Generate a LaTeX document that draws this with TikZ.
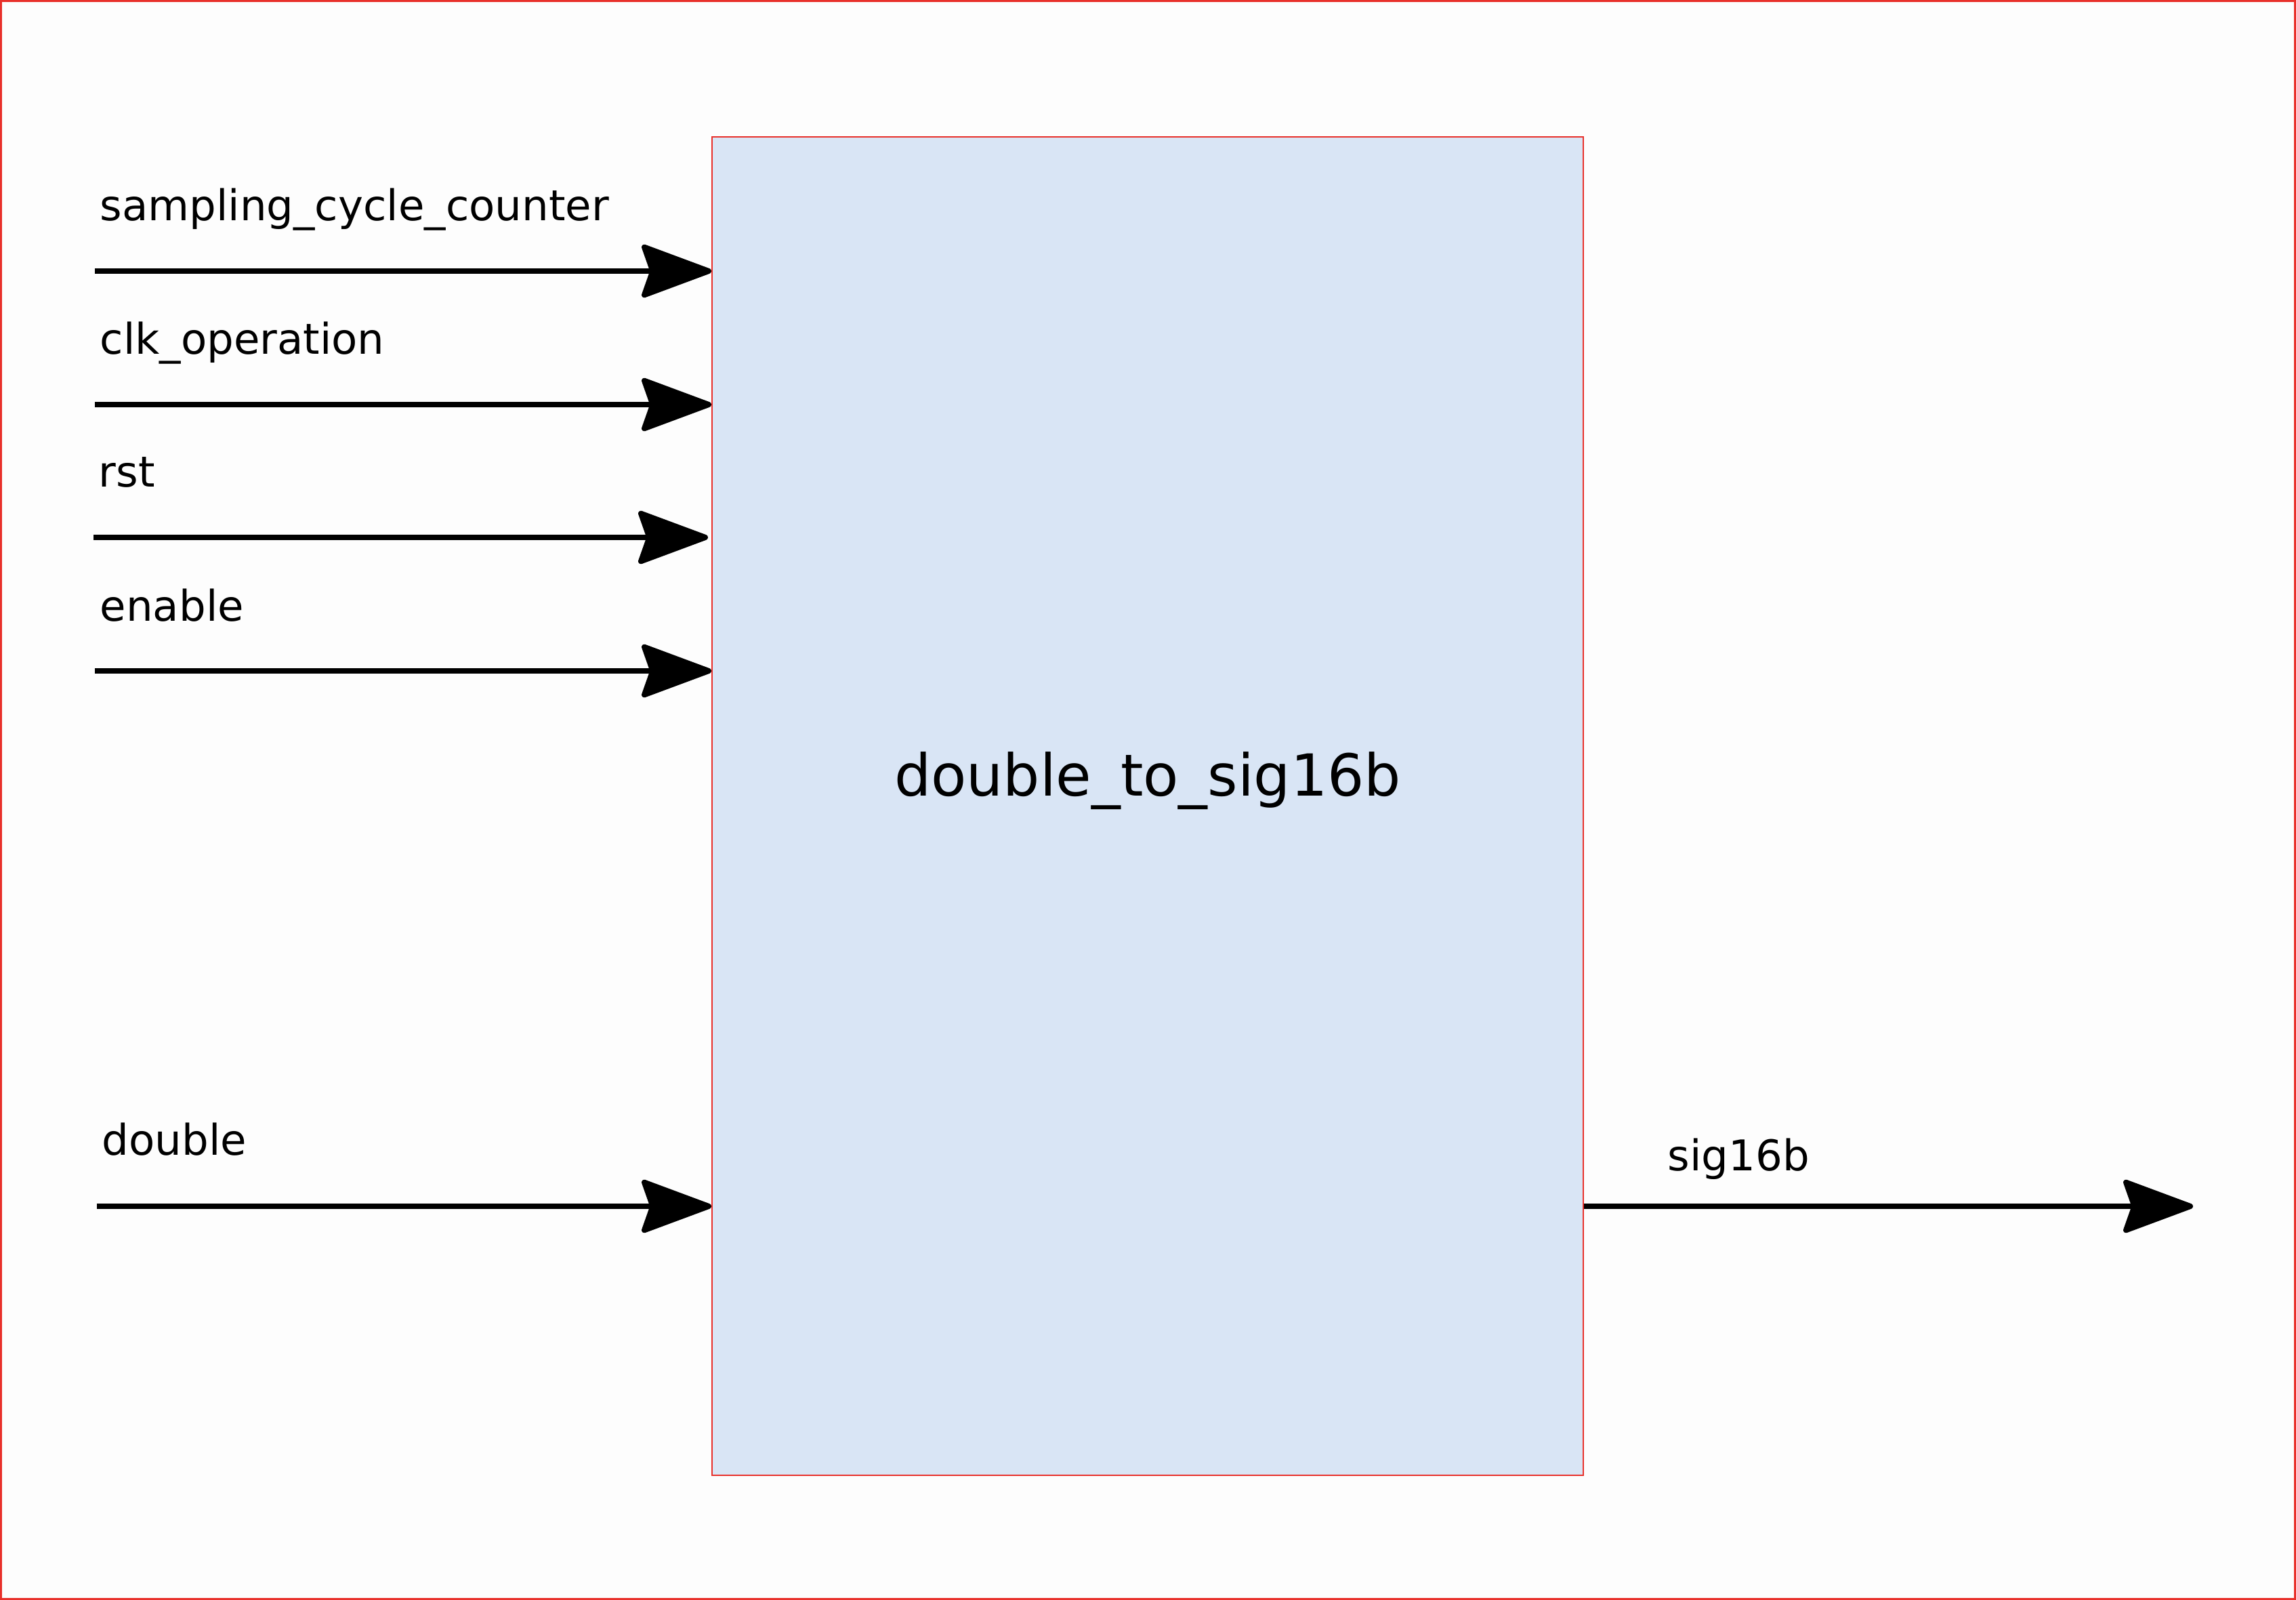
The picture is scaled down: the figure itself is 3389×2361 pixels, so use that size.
\documentclass[tikz,border=0pt]{standalone}
\usepackage{fontspec}
\setmainfont{DejaVu Sans}
\usetikzlibrary{arrows.meta}
\definecolor{boxfill}{HTML}{D9E5F5}
\definecolor{boxline}{HTML}{E8302A}
\definecolor{pagebg}{HTML}{FDFDFD}
\tikzset{
  sig/.style={line width=2.3pt, draw=black, -{Stealth[length=32pt,width=23.5pt,inset=4pt,round]}},
  siglabel/.style={anchor=base west, inner sep=0pt, font=\fontsize{17.8}{22}\selectfont},
  block/.style={draw=boxline, fill=boxfill, line width=0.6pt, minimum width=1286*0.01cm, minimum height=1975*0.01cm, inner sep=0pt}
}
\begin{document}
\begin{tikzpicture}[x=0.01cm,y=-0.01cm]
\useasboundingbox (0,0) rectangle (3389,2361);
\fill[pagebg] (0,0) rectangle (3389,2361);
\draw[boxline, line width=0.8pt] (1.5,1.5) rectangle (3387.5,2359.5);
\node[block, anchor=north west] (blk) at (1050,201) {};
\node[inner sep=0pt, font=\fontsize{24.3}{29}\selectfont, anchor=base] (title) at (1694,1174) {double\_to\_sig16b};
% input start coordinates
\coordinate (s1) at (140,400);
\coordinate (s2) at (140,597);
\coordinate (s3) at (138,793);
\coordinate (s4) at (140,990);
\coordinate (s5) at (143,1780);
\coordinate (e1) at (blk.west |- s1);
\coordinate (e2) at (blk.west |- s2);
\coordinate (e3) at ([xshift=-0.05cm]blk.west |- s3);
\coordinate (e4) at (blk.west |- s4);
\coordinate (e5) at (blk.west |- s5);
\coordinate (o1) at (blk.east |- s5);
\coordinate (o2) at (3237,1780);
\draw[sig] (s1) -- (e1);
\draw[sig] (s2) -- (e2);
\draw[sig] (s3) -- (e3);
\draw[sig] (s4) -- (e4);
\draw[sig] (s5) -- (e5);
\draw[sig] (o1) -- (o2);
\node[siglabel] (l1) at (147,326) {sampling\_cycle\_counter};
\node[siglabel] (l2) at (147,523) {clk\_operation};
\node[siglabel] (l3) at (145,719) {rst};
\node[siglabel] (l4) at (147,916) {enable};
\node[siglabel] (l5) at (150,1704) {double};
\node[siglabel] (l6) at (2461,1727) {sig16b};
\end{tikzpicture}
\end{document}
